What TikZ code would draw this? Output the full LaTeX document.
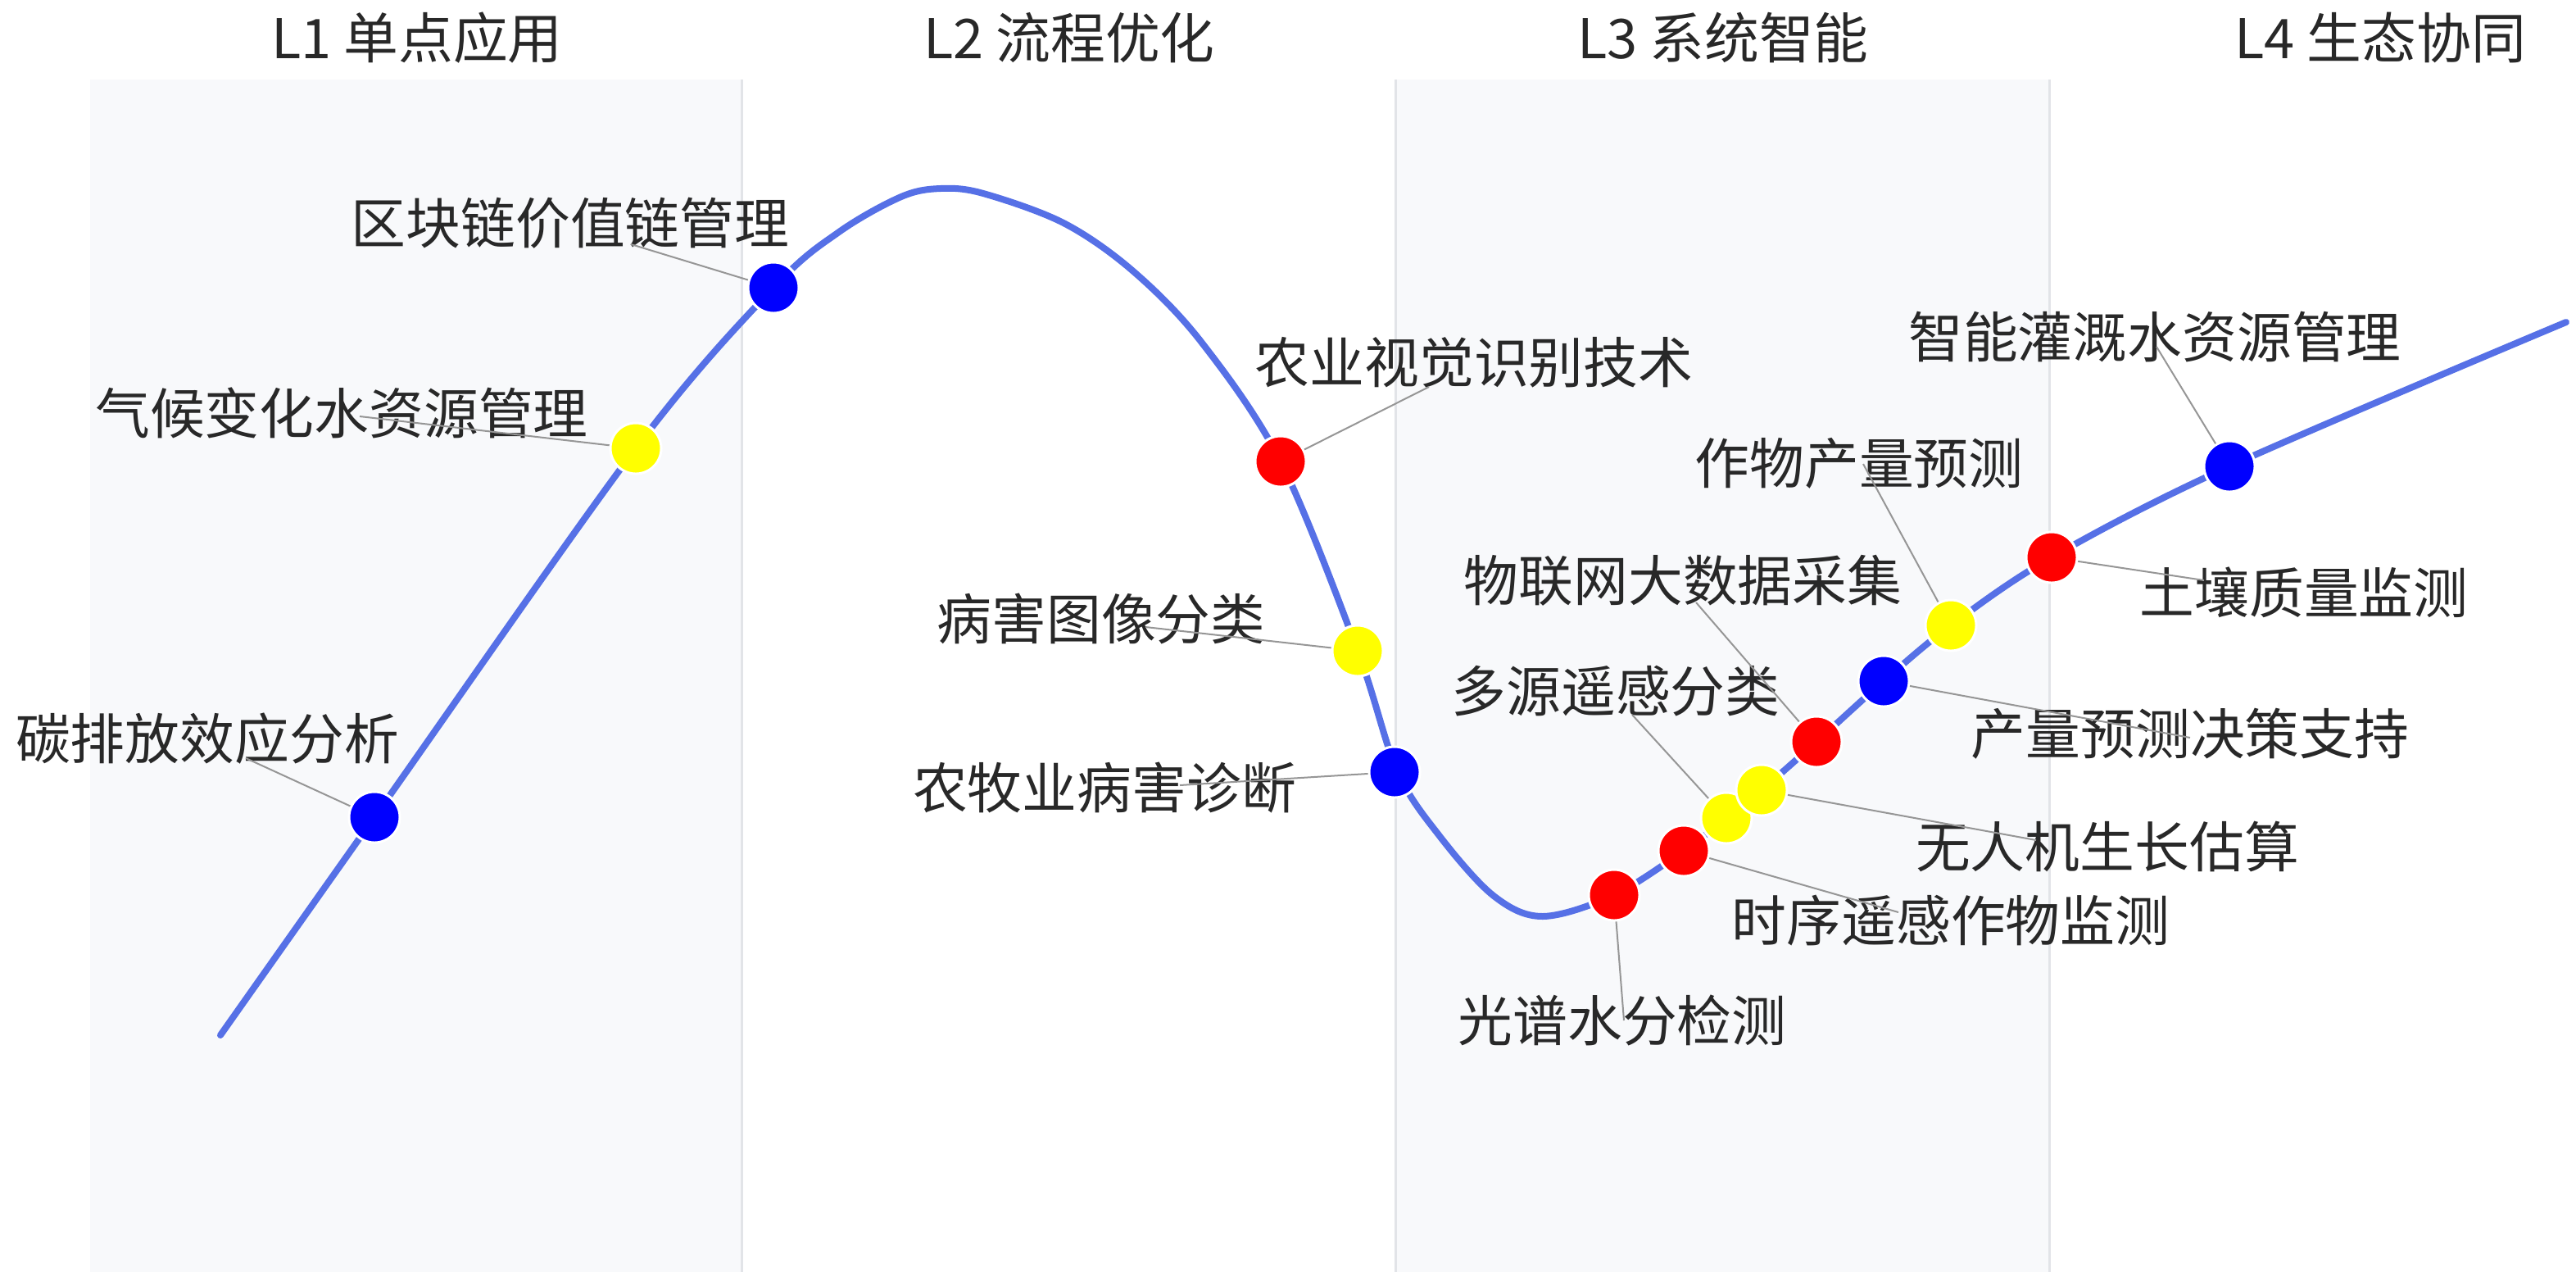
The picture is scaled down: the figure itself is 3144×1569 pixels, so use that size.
\documentclass[tikz,border=0pt]{standalone}
\usepackage{fontspec}
\setmainfont{Noto Sans CJK SC}
\definecolor{curveblue}{RGB}{86,112,230}
\definecolor{bandfill}{RGB}{248,249,251}
\definecolor{bandline}{RGB}{226,228,232}
\definecolor{labeltext}{RGB}{40,40,40}
\definecolor{leadergray}{RGB}{150,150,150}
\begin{document}
\begin{tikzpicture}[x=0.01cm,y=-0.01cm,
  dot/.style={circle,minimum size=0.62cm,inner sep=0pt,draw=white,line width=0.03cm},
  bluedot/.style={dot,fill={rgb,255:red,0;green,0;blue,255}},
  yellowdot/.style={dot,fill={rgb,255:red,255;green,255;blue,0}},
  reddot/.style={dot,fill={rgb,255:red,255;green,0;blue,0}},
  lbl/.style={inner sep=0pt,text=labeltext,font=\fontsize{19pt}{22pt}\selectfont},
  ttl/.style={inner sep=0pt,text=labeltext,font=\fontsize{19pt}{22pt}\selectfont},
  leader/.style={draw=leadergray,line width=0.02cm},
  band/.style={fill=bandfill,draw=none},
  bandedge/.style={draw=bandline,line width=0.03cm}]
\useasboundingbox (0,0) rectangle (3144,1569);
% bands
\fill[band] (110,97) rectangle (905,1552);
\fill[band] (1703,97) rectangle (2501,1552);
\draw[bandedge] (905,97) -- (905,1552);
\draw[bandedge] (1703,97) -- (1703,1552);
\draw[bandedge] (2501,97) -- (2501,1552);
% titles
\node[ttl] (t1) at (509,46) {L1 单点应用};
\node[ttl] (t2) at (1305,46) {L2 流程优化};
\node[ttl] (t3) at (2103,46) {L3 系统智能};
\node[ttl] (t4) at (2905,46) {L4 生态协同};
% curve
\draw[curveblue,line width=0.08cm,line cap=round] plot[smooth,tension=0.55] coordinates {
 (269,1263) (457,997) (776,547) (944,351) (1024,283) (1100,240)
 (1148,230) (1200,236) (1298,272) (1382,330) (1466,417) (1563,563)
 (1657,794) (1705,940) (1757,1020) (1823,1093) (1883,1118) (1970,1092)
 (2055,1038) (2107,998) (2150,964) (2217,905) (2299,831) (2381,763) (2504,680)
 (2721,569) (3132,393)};
% leader ends
\coordinate (e1) at (300,925);
\coordinate (e2) at (439,508);
\coordinate (e3) at (770,298);
\coordinate (e4) at (1744,472);
\coordinate (e5) at (1398,765);
\coordinate (e6) at (1440,958);
\coordinate (e7) at (1982,1245);
\coordinate (e8) at (2317,1113);
\coordinate (e9) at (1992,872);
\coordinate (e10) at (2485,1025);
\coordinate (e11) at (2070,735);
\coordinate (e12) at (2673,900);
\coordinate (e13) at (2274,566);
\coordinate (e14) at (2690,708);
\coordinate (e15) at (2632,423);
% labels
\node[lbl] (l1) at (253,901) {碳排放效应分析};
\node[lbl] (l2) at (417,504) {气候变化水资源管理};
\node[lbl] (l3) at (696,272) {区块链价值链管理};
\node[lbl] (l4) at (1799,442) {农业视觉识别技术};
\node[lbl] (l5) at (1344,755) {病害图像分类};
\node[lbl] (l6) at (1348,961) {农牧业病害诊断};
\node[lbl] (l7) at (1980,1245) {光谱水分检测};
\node[lbl] (l8) at (2381,1123) {时序遥感作物监测};
\node[lbl] (l9) at (1972,843) {多源遥感分类};
\node[lbl] (l10) at (2572,1033) {无人机生长估算};
\node[lbl] (l11) at (2054,708) {物联网大数据采集};
\node[lbl] (l12) at (2673,895) {产量预测决策支持};
\node[lbl] (l13) at (2269,565) {作物产量预测};
\node[lbl] (l14) at (2812,723) {土壤质量监测};
\node[lbl] (l15) at (2630,411) {智能灌溉水资源管理};
% dots
\node[bluedot] (d1) at (457,997) {};
\node[yellowdot] (d2) at (776,547) {};
\node[bluedot] (d3) at (944,351) {};
\node[reddot] (d4) at (1563,563) {};
\node[yellowdot] (d5) at (1657,794) {};
\node[bluedot] (d6) at (1702,942) {};
\node[reddot] (d7) at (1970,1092) {};
\node[reddot] (d8) at (2055,1038) {};
\node[yellowdot] (d9) at (2107,998) {};
\node[yellowdot] (d10) at (2150,964) {};
\node[reddot] (d11) at (2217,905) {};
\node[bluedot] (d12) at (2299,831) {};
\node[yellowdot] (d13) at (2381,763) {};
\node[reddot] (d14) at (2504,680) {};
\node[bluedot] (d15) at (2721,569) {};
% leaders
\foreach \i in {1,...,15} { \draw[leader] (d\i) -- (e\i); }
\end{tikzpicture}
\end{document}
